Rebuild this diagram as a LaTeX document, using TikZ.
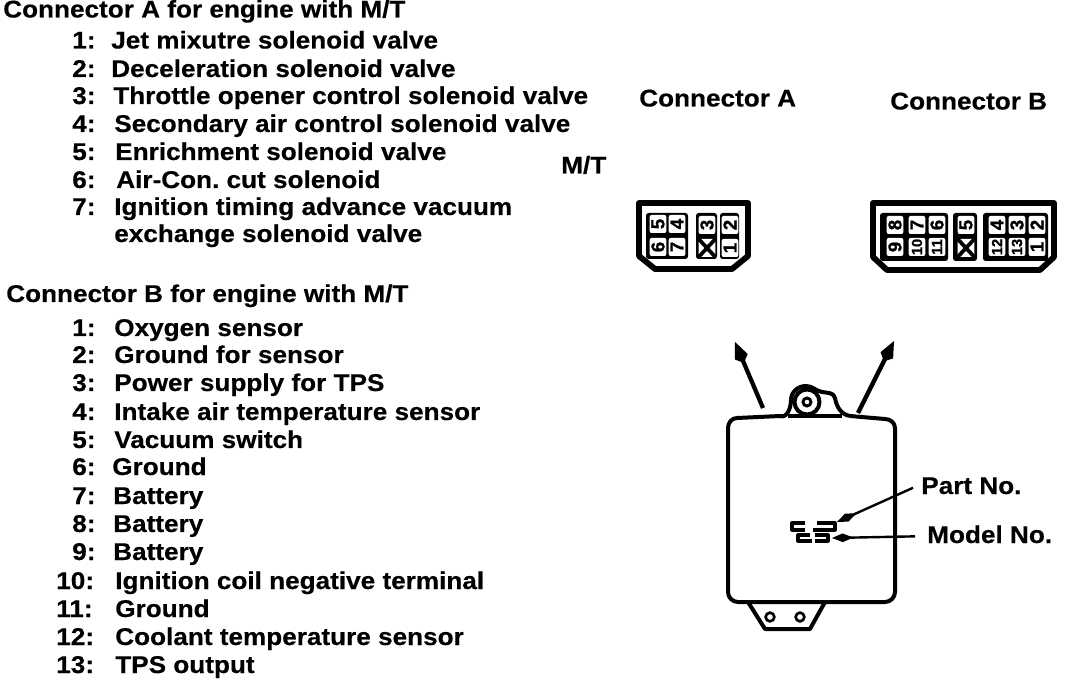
\documentclass[tikz,border=0pt]{standalone}
\usepackage{fontspec}
\setmainfont{Liberation Sans}
\newfontfamily\labelfont[FakeStretch=1.08,FakeBold=.4]{Liberation Sans Bold}
\newfontfamily\pinfont[FakeBold=1]{Liberation Sans Bold}
\usetikzlibrary{arrows.meta,calc}
\tikzset{
  txt/.style={anchor=base west,inner sep=0,font=\fontsize{18.15pt}{20pt}\labelfont\frenchspacing},
  block/.style={fill=black,rounded corners=2pt},
  pin/.style={fill=white,inner sep=0,rounded corners=1.5pt,rotate=90,minimum width=13.5pt,minimum height=12.5pt,font=\fontsize{14pt}{14pt}\pinfont},
  smallpin/.style={pin,font=\fontsize{11pt}{11pt}\pinfont},
  shell/.style={line width=3pt,line join=round},
  housing/.style={line width=4.4pt,line join=round},
  leader/.style={-{Kite[length=16pt,width=6.5pt,inset=8pt]},line width=1.8pt},
  outarrow/.style={-{Kite[length=17pt,width=10.5pt,inset=5pt]},line width=3.2pt}
}
\begin{document}
\begin{tikzpicture}[x=.75pt,y=-.75pt]
\useasboundingbox (0,0) rectangle (1072,684);

% Connector A list
\node[txt] (titlea) at (3,17.5) {Connector A for engine with M/T};
\foreach \n/\tx/\y/\lab in {1/111/48.5/Jet mixutre solenoid valve,2/111/77/Deceleration solenoid valve,3/113/104/Throttle opener control solenoid valve,4/114/132/Secondary air control solenoid valve,5/115/160/Enrichment solenoid valve,6/116/188/Air-Con. cut solenoid,7/114/215/Ignition timing advance vacuum}{
  \node[txt] (na\n) at (72,\y) {\n:};
  \node[txt] (la\n) at (\tx,\y) {\lab};
}
\node[txt] (la8) at (114,242) {exchange solenoid valve};

% Connector B list
\node[txt] (titleb) at (6,302) {Connector B for engine with M/T};
\foreach \n/\nx/\tx/\y/\lab in {1/72/114/336/Oxygen sensor,2/72/114/363/Ground for sensor,3/72/114/391/Power supply for TPS,4/72/114/420/Intake air temperature sensor,5/72/114/448/Vacuum switch,6/72/112/475/Ground,7/72/113/504/Battery,8/72/113/532/Battery,9/72/113/560/Battery,10/56/115/589/Ignition coil negative terminal,11/56/115/617/Ground,12/56/115/645/Coolant temperature sensor,13/56/115/673/TPS output}{
  \node[txt] (nb\n) at (\nx,\y) {\n:};
  \node[txt] (lb\n) at (\tx,\y) {\lab};
}

% Headings
\node[txt] (heada) at (639,106.5) {Connector A};
\node[txt] (headb) at (890,109.5) {Connector B};
\node[txt] (mt) at (561,173.5) {M/T};

% Connector A
\draw[housing] (639,203) -- (748,203) -- (748,256) -- (732,269) -- (655,269) -- (639,256) -- cycle;
\fill[block] (646,213) rectangle (688,259);
\fill[block] (696,213) rectangle (717,259);
\fill[block] (720,213) rectangle (739,259);
\foreach \n/\x/\y in {5/658/224,4/677/224,6/658/247,7/677/247,3/707/225,2/730/225,1/730/248}{
  \node[pin] (pa\n) at (\x,\y) {\n};
}
\node[pin] (pax) at (707,248) {};
\draw[line width=2.8pt] (pax.north west) -- (pax.south east) (pax.north east) -- (pax.south west);

% Connector B
\draw[housing] (873,203) -- (1054,203) -- (1054,257) -- (1040,270) -- (887,270) -- (873,257) -- cycle;
\fill[block] (880,213) rectangle (948,261);
\fill[block] (953,213) rectangle (977,261);
\fill[block] (983,213) rectangle (1048,261);
\foreach \n/\x/\y in {8/895/225,7/917/225,6/937/225,9/895/247,5/966/225,4/997/225,3/1017/225,2/1037/225,1/1037/247}{
  \node[pin] (pb\n) at (\x,\y) {\n};
}
\foreach \n/\x/\y in {10/917/247,11/937/247,12/997/247,13/1017/247}{
  \node[smallpin] (pb\n) at (\x,\y) {\n};
}
\node[pin] (pbx) at (966,248) {};
\draw[line width=2.8pt] (pbx.north west) -- (pbx.south east) (pbx.north east) -- (pbx.south west);

% The unit
\draw[shell] (780,416) -- (737,418) to[out=180,in=90] (728,428) -- (728,592) to[out=270,in=180] (738,602) -- (885,602) to[out=0,in=270] (895,592) -- (895,428) to[out=90,in=0] (885,419) -- (850,416);
\draw[shell] (780,416) to[out=-20,in=270] (791,400) to[out=90,in=180] (806,386) to[out=0,in=170] (822,392) to[out=-10,in=100] (835,398) to[out=280,in=170] (850,416);
\draw[shell] (788,416) -- (842,416);
\draw[line width=3pt,fill=white] (807,402) circle (12.5);
\draw[line width=2.2pt] (807,402) circle (4);
\draw[shell] (748,602) -- (765,629) -- (810,629) -- (825,602);
\node[circle,draw,line width=2pt,inner sep=0,minimum size=6.5pt] (holea) at (770,617) {};
\node[circle,draw,line width=2pt,inner sep=0,minimum size=6.5pt] (holeb) at (800,617) {};

% Arrows
\coordinate (arrowa) at (763,408);
\coordinate (tipa) at (735,342);
\coordinate (arrowb) at (858,413);
\coordinate (tipb) at (894,341);
\draw[outarrow] (arrowa) -- (tipa);
\draw[outarrow] (arrowb) -- (tipb);

% Part and model numbers
\node[txt] (part) at (921,494) {Part No.};
\node[txt] (model) at (927,543) {Model No.};
\coordinate (tippart) at (837,522);
\coordinate (tipmodel) at (832,538);
\draw[leader] ($(part.west)+(-8,2)$) -- (tippart);
\draw[leader] ($(model.west)+(-12,2)$) -- (tipmodel);
\draw[line width=2.4pt,line join=round] (805,523) -- (792,523) -- (792,530) -- (805,530);
\draw[line width=2.4pt,line join=round] (817,523) -- (835,523) -- (835,530) -- (813,530);
\draw[line width=2.4pt,line join=round] (810,535) -- (798,535) -- (798,541) -- (812,541);
\draw[line width=2.4pt,line join=round] (815,535) -- (828,535) -- (828,541) -- (815,541);

\end{tikzpicture}
\end{document}
